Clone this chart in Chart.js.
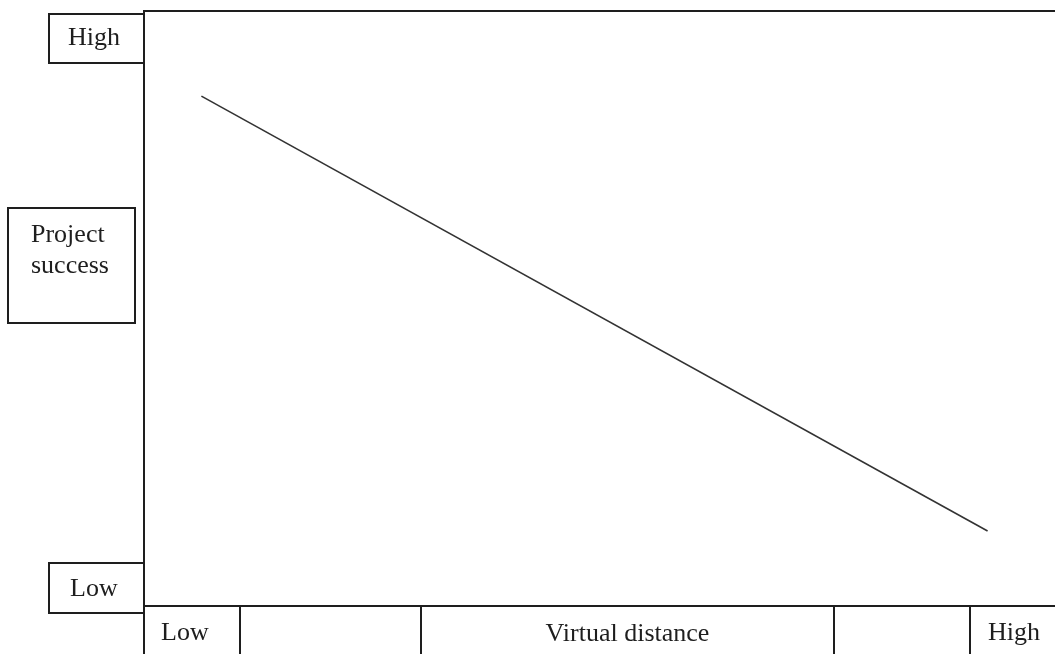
<!DOCTYPE html>
<html>
<head>
<meta charset="utf-8">
<script src="https://cdn.jsdelivr.net/npm/chart.js@4/dist/chart.umd.min.js"></script>
<style>
  html, body { margin: 0; padding: 0; background: #fff; }
  #wrap { position: relative; width: 1055px; height: 654px; overflow: hidden; }
  canvas { display: block; }
</style>
</head>
<body>
<div id="wrap"><canvas id="c" width="1055" height="654"></canvas></div>
<script>
// ---- data ----
const xAxisTitle = 'Virtual distance';
const yAxisTitle = ['Project', 'success'];
const xTickLabels = ['Low', 'High'];
const yTickLabels = ['High', 'Low'];
const virtualDistance = [0.63, 9.26];
const projectSuccess = [8.57, 1.26];

const FONT = '26px "Liberation Serif", "Times New Roman", serif';
const INK = '#1e1e1e';

const framePlugin = {
  id: 'frame',
  afterDraw(chart) {
    const { ctx, chartArea: a, scales } = chart;
    const xs = scales.x;
    ctx.save();
    ctx.strokeStyle = INK;
    ctx.lineWidth = 2;
    ctx.fillStyle = INK;
    ctx.font = FONT;
    ctx.textBaseline = 'alphabetic';

    // plot frame (left, top, bottom)
    ctx.beginPath();
    ctx.moveTo(a.left, a.bottom);
    ctx.lineTo(a.left, a.top);
    ctx.lineTo(a.right + 5, a.top);
    ctx.moveTo(a.left, a.bottom);
    ctx.lineTo(a.right + 5, a.bottom);
    ctx.stroke();

    // bottom row cells
    const dividers = [0, 1.05, 3.04, 7.57, 9.07].map(v => Math.round(xs.getPixelForValue(v)));
    ctx.beginPath();
    dividers.forEach(px => { ctx.moveTo(px, a.bottom); ctx.lineTo(px, chart.height + 5); });
    ctx.stroke();
    ctx.textAlign = 'left';
    ctx.fillText(xTickLabels[0], dividers[0] + 17, 640);
    ctx.fillText(xTickLabels[1], dividers[4] + 18, 640);
    ctx.textAlign = 'center';
    ctx.fillText(xAxisTitle, (dividers[2] + dividers[3]) / 2, 641);

    // left side boxes
    const bx = 49, bw = a.left - 49;
    ctx.strokeRect(bx, 14, bw, 49);
    ctx.strokeRect(bx, 563, bw, 50);
    ctx.textAlign = 'left';
    ctx.fillText(yTickLabels[0], 68, 45);
    ctx.fillText(yTickLabels[1], 70, 596);

    ctx.strokeRect(8, 208, 127, 115);
    ctx.fillText(yAxisTitle[0], 31, 242);
    ctx.fillText(yAxisTitle[1], 31, 273);
    ctx.restore();
  }
};

new Chart(document.getElementById('c'), {
  type: 'line',
  data: {
    datasets: [{
      data: virtualDistance.map((v, i) => ({ x: v, y: projectSuccess[i] })),
      borderColor: '#333',
      borderWidth: 1.6,
      pointRadius: 0,
      fill: false,
      tension: 0
    }]
  },
  options: {
    responsive: false,
    devicePixelRatio: 1,
    animation: false,
    layout: { padding: { left: 144, top: 11, right: 0, bottom: 48 } },
    plugins: { legend: { display: false }, tooltip: { enabled: false } },
    scales: {
      x: { type: 'linear', min: 0, max: 10, display: false },
      y: { type: 'linear', min: 0, max: 10, display: false }
    }
  },
  plugins: [framePlugin]
});
</script>
</body>
</html>
